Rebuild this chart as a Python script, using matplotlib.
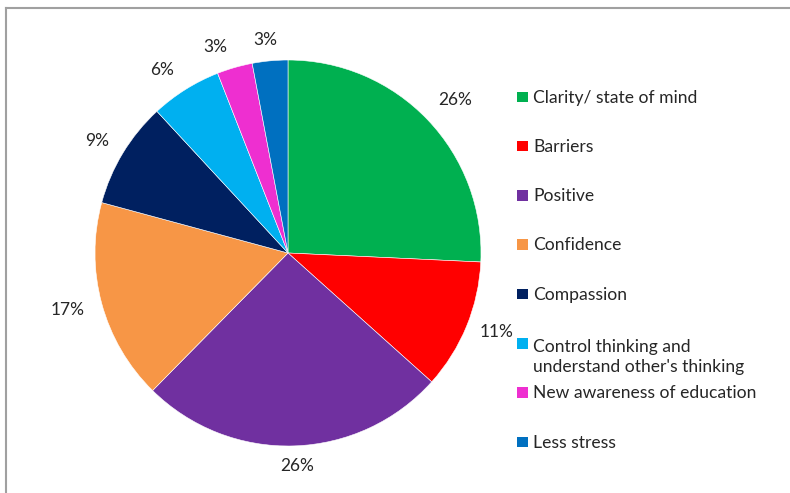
import matplotlib.pyplot as plt
from matplotlib.patches import Rectangle
from matplotlib.lines import Line2D

# Data
categories = ['Clarity/ state of mind', 'Barriers', 'Positive', 'Confidence',
              'Compassion', 'Control thinking and\nunderstand other\'s thinking',
              'New awareness of education', 'Less stress']
percent = [26, 11, 26, 17, 9, 6, 3, 3]
colors = ['#00B050', '#FF0000', '#7030A0', '#F79646',
          '#002060', '#00B0F0', '#EE2FD0', '#0070C0']

# where the percentage labels sit (pie units, radius = 1)
label_pos = [(0.865, 0.793), (1.083, -0.409), (0.047, -1.104), (-1.140, -0.295),
             (-0.990, 0.580), (-0.653, 0.948), (-0.378, 1.067), (-0.119, 1.104)]

plt.rcParams['font.family'] = ['Lato', 'DejaVu Sans']
txt_color = '#262626'

W, H = 790, 493
fig = plt.figure(figsize=(W / 100, H / 100), dpi=100)

# pie axes: centre (288, 253) px, radius 193 px
cx, cy, r = 288, 253, 193
ax = fig.add_axes([(cx - r) / W, 1 - (cy + r) / H, 2 * r / W, 2 * r / H])
wedges, texts = ax.pie(percent, colors=colors, startangle=90, counterclock=False,
                       labels=[f'{p}%' for p in percent],
                       wedgeprops=dict(edgecolor='white', linewidth=0.4),
                       textprops=dict(fontsize=12.5, color=txt_color))
for t, pos in zip(texts, label_pos):
    t.set_position(pos)
    t.set_ha('center')
    t.set_va('center')
ax.set_xlim(-1, 1)
ax.set_ylim(-1, 1)
ax.set_aspect('equal')
ax.axis('off')

# legend drawn by hand, evenly spaced; first text line level with the swatch
y0, step, line_h = 97, 49.3, 23.2
for i, (lab, c) in enumerate(zip(categories, colors)):
    y = y0 + step * i
    fig.patches.append(Rectangle((517 / W, 1 - (y + 5) / H), 10.5 / W, 10.5 / H,
                                 transform=fig.transFigure, facecolor=c,
                                 edgecolor='none'))
    extra = lab.count('\n') * line_h
    fig.text(533 / W, 1 - (y + 5.5 + extra) / H, lab, fontsize=12.6,
             color=txt_color, ha='left', va='baseline', linespacing=1.33)

# frame lines top and left
fig.add_artist(Line2D([6 / W, 1], [1 - 7.5 / H, 1 - 7.5 / H], color='#A0A0A0',
                      linewidth=1.5, transform=fig.transFigure))
fig.add_artist(Line2D([6 / W, 6 / W], [0, 1 - 7.5 / H], color='#A0A0A0',
                      linewidth=1.5, transform=fig.transFigure))

plt.savefig('out.png', dpi=100)
